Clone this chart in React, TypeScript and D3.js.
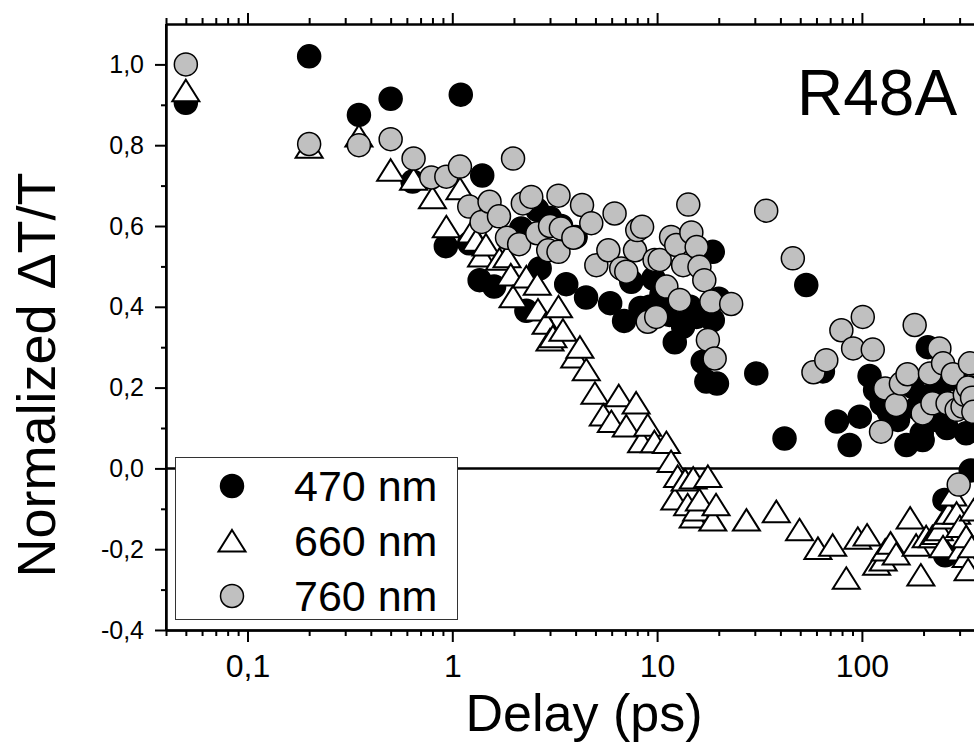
import React, { useEffect, useRef } from "react";
import * as d3 from "d3";

const W = 974;
const H = 756;

const seriesNames = ["470 nm", "660 nm", "760 nm"];
const xMajorTicks = [0.1, 1, 10, 100];
const xMajorLabels = ["0,1", "1", "10", "100"];
const xUnlabelledMajor = [1000];
const yMajorTicks = [-0.4, -0.2, 0, 0.2, 0.4, 0.6, 0.8, 1.0];
const yMajorLabels = ["-0,4", "-0,2", "0,0", "0,2", "0,4", "0,6", "0,8", "1,0"];
const yMinorTicks = [-0.3, -0.1, 0.1, 0.3, 0.5, 0.7, 0.9];

// 470 nm (black circles)
const delay470 = [0.05, 0.2, 0.35, 0.5, 0.64, 0.93, 1.1, 1.21, 1.36, 1.4, 1.6, 2.17, 2.3, 2.67, 2.6, 3.0, 3.4, 3.6, 4.0, 4.5, 5.9, 6.9, 7.48, 8.3, 9.2, 9.6, 10.5, 11.5, 12.2, 13.4, 14.5, 15.6, 16.7, 17.4, 18.7, 18.7, 19.6, 20, 30.5, 41.9, 53.5, 64.5, 75.5, 87.1, 97.7, 109, 116, 125, 135, 150, 165, 177, 185, 196, 198, 210, 215, 230, 240, 253, 255, 260, 290, 300, 323, 340, 345];
const dt470 = [0.905, 1.02, 0.875, 0.915, 0.71, 0.55, 0.925, 0.557, 0.466, 0.725, 0.45, 0.594, 0.39, 0.495, 0.64, 0.62, 0.6, 0.456, 0.573, 0.423, 0.409, 0.365, 0.462, 0.397, 0.4, 0.47, 0.43, 0.38, 0.312, 0.351, 0.4, 0.375, 0.264, 0.215, 0.536, 0.367, 0.21, 0.42, 0.235, 0.074, 0.454, 0.24, 0.116, 0.058, 0.128, 0.229, 0.194, 0.16, 0.14, 0.12, 0.058, 0.202, 0.15, 0.087, 0.07, 0.3, 0.18, 0.12, 0.2, -0.078, -0.215, 0.1, 0.219, 0.15, 0.087, -0.005, 0.2];

// 660 nm (open triangles)
const delay660 = [0.05, 0.2, 0.35, 0.5, 0.647, 0.8, 0.935, 1.09, 1.24, 1.31, 1.39, 1.46, 1.7, 1.85, 1.93, 1.98, 2.3, 2.6, 2.62, 2.87, 3.0, 3.1, 3.3, 3.47, 3.96, 4.2, 4.51, 4.97, 5.46, 5.98, 6.5, 7.07, 7.9, 8.4, 9.0, 9.7, 11.1, 11.7, 12.2, 12.6, 13.7, 14.1, 15.0, 15.0, 15.6, 16.1, 17.7, 18.7, 19.4, 27.3, 38.2, 49.6, 61, 72, 83.9, 95.5, 106, 118, 127, 130, 138, 147, 172, 184, 194, 206, 221, 230, 239, 249, 255, 266, 278, 290, 301, 304, 323, 323, 330, 344, 351];
const dt660 = [0.935, 0.795, 0.823, 0.738, 0.716, 0.67, 0.598, 0.692, 0.585, 0.565, 0.526, 0.553, 0.518, 0.524, 0.479, 0.425, 0.474, 0.456, 0.392, 0.359, 0.318, 0.326, 0.4, 0.342, 0.276, 0.3, 0.244, 0.186, 0.132, 0.116, 0.18, 0.105, 0.162, 0.066, 0.107, 0.066, 0.064, 0.017, -0.076, -0.02, -0.029, -0.09, -0.024, -0.12, -0.103, -0.078, -0.02, -0.128, -0.09, -0.128, -0.107, -0.152, -0.198, -0.19, -0.272, -0.173, -0.165, -0.237, -0.227, -0.202, -0.185, -0.212, -0.123, -0.19, -0.264, -0.169, -0.169, -0.161, -0.152, -0.194, -0.123, -0.111, -0.066, -0.111, -0.144, -0.202, -0.169, -0.218, -0.251, -0.194, -0.103];

// 760 nm (grey circles)
const delay760 = [0.05, 0.2, 0.35, 0.5, 0.647, 0.79, 0.935, 1.09, 1.21, 1.39, 1.52, 1.69, 1.85, 1.98, 2.12, 2.21, 2.43, 2.6, 2.94, 3.0, 3.3, 3.3, 3.39, 3.9, 4.3, 4.77, 5.05, 5.78, 6.2, 6.68, 7.07, 7.8, 8.0, 8.45, 9.0, 9.72, 9.9, 10.3, 11.1, 11.7, 12.4, 12.9, 13.4, 14.2, 14.7, 15.6, 16.1, 17.0, 17.7, 18.4, 19.1, 23.0, 34.1, 46, 58, 67, 79.4, 90.6, 101, 113, 124, 130, 147, 155, 167, 181, 198, 215, 221, 239, 249, 262, 278, 290, 297, 310, 318, 330, 337, 345, 350];
const dt760 = [1.0, 0.803, 0.8, 0.815, 0.767, 0.72, 0.722, 0.747, 0.648, 0.61, 0.66, 0.624, 0.571, 0.767, 0.555, 0.656, 0.672, 0.582, 0.54, 0.6, 0.675, 0.536, 0.594, 0.571, 0.652, 0.607, 0.503, 0.54, 0.631, 0.495, 0.487, 0.54, 0.59, 0.598, 0.363, 0.516, 0.375, 0.516, 0.45, 0.573, 0.553, 0.417, 0.503, 0.653, 0.584, 0.548, 0.499, 0.466, 0.318, 0.413, 0.272, 0.407, 0.638, 0.52, 0.238, 0.268, 0.342, 0.297, 0.375, 0.294, 0.091, 0.198, 0.157, 0.21, 0.233, 0.355, 0.136, 0.235, 0.161, 0.297, 0.26, 0.161, 0.233, 0.145, -0.04, 0.153, 0.182, 0.2, 0.26, 0.175, 0.14];

const FONT = "'Liberation Sans', Arial, Helvetica, sans-serif";
const TRI = "M0,-11L13.5,10.5L-13.5,10.5Z";

export default function App() {
  const ref = useRef<SVGSVGElement>(null);

  useEffect(() => {
    const svg = d3.select(ref.current);
    svg.selectAll("*").remove();

    const left = 166;
    const top = 24;
    const bottom = 630;
    const perDecade = 204.8;
    const x = d3
      .scaleLog()
      .domain([0.04, 10000])
      .range([left, left + Math.log10(10000 / 0.04) * perDecade]);
    const y = d3.scaleLinear().domain([-0.4, 1.1]).range([bottom, top]);

    svg.append("rect").attr("width", W).attr("height", H).attr("fill", "#fff");

    const xMinor: number[] = [];
    for (let k = -2; k <= 3; k++) {
      for (let m = 2; m <= 9; m++) {
        const v = m * Math.pow(10, k);
        if (v >= 0.04 && v <= 10000) xMinor.push(v);
      }
    }
    const xMajorAll = [...xMajorTicks, ...xUnlabelledMajor];

    const styleAxis = (g: any) => {
      g.select(".domain").attr("stroke", "#000").attr("stroke-width", 2);
      g.selectAll(".tick line").attr("stroke", "#000").attr("stroke-width", 2);
    };

    // bottom axis
    const gb = svg.append("g").attr("transform", `translate(0,${bottom})`);
    gb.call(
      d3.axisBottom(x).tickValues(xMinor).tickSize(6).tickSizeOuter(0).tickFormat(() => "") as any
    ).call(styleAxis);
    const gb3 = svg.append("g").attr("transform", `translate(0,${bottom})`);
    gb3.call(
      d3.axisBottom(x).tickValues(xUnlabelledMajor).tickSize(12).tickSizeOuter(0).tickFormat(() => "") as any
    ).call(styleAxis);
    const gb2 = svg.append("g").attr("transform", `translate(0,${bottom})`);
    gb2
      .call(
        d3
          .axisBottom(x)
          .tickValues(xMajorTicks)
          .tickSize(12)
          .tickSizeOuter(0)
          .tickPadding(12)
          .tickFormat((d: any, i: number) => xMajorLabels[i]) as any
      )
      .call(styleAxis);
    gb2.selectAll(".tick text").attr("font-size", 32).attr("font-family", FONT).attr("fill", "#000");

    // top axis
    const gt = svg.append("g").attr("transform", `translate(0,${top})`);
    gt.call(
      d3.axisTop(x).tickValues(xMinor).tickSize(6).tickSizeOuter(0).tickFormat(() => "") as any
    ).call(styleAxis);
    const gt2 = svg.append("g").attr("transform", `translate(0,${top})`);
    gt2.call(
      d3.axisTop(x).tickValues(xMajorAll).tickSize(11).tickSizeOuter(0).tickFormat(() => "") as any
    ).call(styleAxis);

    // left axis
    const gl = svg.append("g").attr("transform", `translate(${left},0)`);
    gl.call(
      d3.axisLeft(y).tickValues(yMinorTicks).tickSize(5).tickSizeOuter(0).tickFormat(() => "") as any
    ).call(styleAxis);
    const gl2 = svg.append("g").attr("transform", `translate(${left},0)`);
    gl2
      .call(
        d3
          .axisLeft(y)
          .tickValues(yMajorTicks)
          .tickSize(11)
          .tickSizeOuter(0)
          .tickPadding(11)
          .tickFormat((d: any, i: number) => yMajorLabels[i]) as any
      )
      .call(styleAxis);
    gl2.selectAll(".tick text").attr("font-size", 25).attr("font-family", FONT).attr("fill", "#000");
    svg
      .append("line")
      .attr("x1", left)
      .attr("x2", left)
      .attr("y1", top)
      .attr("y2", bottom)
      .attr("stroke", "#000")
      .attr("stroke-width", 2);

    // zero line
    svg
      .append("line")
      .attr("x1", left)
      .attr("x2", W + 10)
      .attr("y1", y(0))
      .attr("y2", y(0))
      .attr("stroke", "#000")
      .attr("stroke-width", 2.5);

    const pts = (xs: number[], ys: number[]) => xs.map((d, i) => [d, ys[i]] as [number, number]);

    svg
      .append("g")
      .selectAll("circle")
      .data(pts(delay470, dt470))
      .join("circle")
      .attr("cx", (d) => x(d[0]))
      .attr("cy", (d) => y(d[1]))
      .attr("r", 11.5)
      .attr("fill", "#000")
      .attr("stroke", "#000")
      .attr("stroke-width", 1.5);

    svg
      .append("g")
      .selectAll("path")
      .data(pts(delay660, dt660))
      .join("path")
      .attr("d", TRI)
      .attr("transform", (d) => `translate(${x(d[0])},${y(d[1])})`)
      .attr("fill", "#fff")
      .attr("stroke", "#000")
      .attr("stroke-width", 2);

    svg
      .append("g")
      .selectAll("circle")
      .data(pts(delay760, dt760))
      .join("circle")
      .attr("cx", (d) => x(d[0]))
      .attr("cy", (d) => y(d[1]))
      .attr("r", 11.5)
      .attr("fill", "#c0c0c0")
      .attr("stroke", "#000")
      .attr("stroke-width", 1.5);

    // legend
    const lg = svg.append("g");
    lg.append("rect")
      .attr("x", 175.5)
      .attr("y", 457.5)
      .attr("width", 282)
      .attr("height", 162)
      .attr("fill", "#fff")
      .attr("stroke", "#333")
      .attr("stroke-width", 1);
    const rowsY = [486, 541, 596];
    lg.append("circle").attr("cx", 232).attr("cy", rowsY[0]).attr("r", 11.5).attr("fill", "#000").attr("stroke", "#000").attr("stroke-width", 1.5);
    lg.append("path").attr("d", TRI).attr("transform", `translate(232,${rowsY[1]})`).attr("fill", "#fff").attr("stroke", "#000").attr("stroke-width", 2);
    lg.append("circle").attr("cx", 232).attr("cy", rowsY[2]).attr("r", 11.5).attr("fill", "#c0c0c0").attr("stroke", "#000").attr("stroke-width", 1.5);
    seriesNames.forEach((n, i) => {
      lg.append("text")
        .attr("x", 294)
        .attr("y", rowsY[i] + 15)
        .attr("font-size", 43)
        .attr("font-family", FONT)
        .attr("fill", "#000")
        .text(n);
    });

    svg
      .append("text")
      .attr("x", 797)
      .attr("y", 115)
      .attr("font-size", 64)
      .attr("font-family", FONT)
      .attr("fill", "#000")
      .text("R48A");

    svg
      .append("text")
      .attr("x", 584)
      .attr("y", 731)
      .attr("text-anchor", "middle")
      .attr("font-size", 52)
      .attr("font-family", FONT)
      .attr("fill", "#000")
      .text("Delay (ps)");
    svg
      .append("text")
      .attr("transform", "translate(55,375) rotate(-90)")
      .attr("text-anchor", "middle")
      .attr("font-size", 54)
      .attr("font-family", FONT)
      .attr("fill", "#000")
      .text("Normalized \u0394T/T");
  }, []);

  return (
    <svg
      ref={ref}
      width={W}
      height={H}
      style={{ position: "absolute", left: 0, top: 0, display: "block" }}
    />
  );
}
